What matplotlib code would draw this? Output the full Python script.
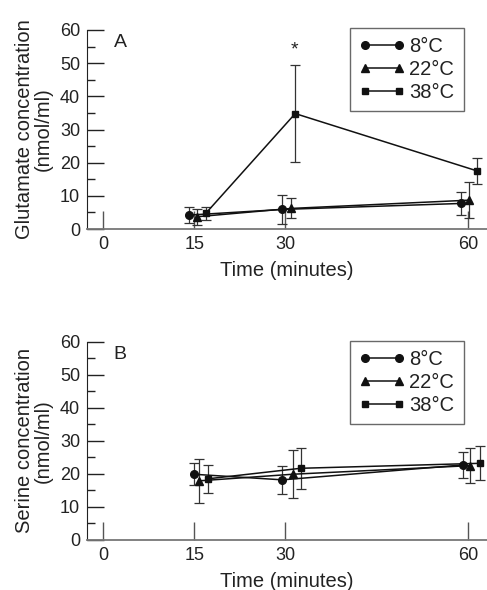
import matplotlib
matplotlib.use("Agg")
import matplotlib.pyplot as plt
from matplotlib.ticker import MultipleLocator
from matplotlib.lines import Line2D

plt.rcParams['font.family'] = ['Liberation Sans', 'DejaVu Sans']

series = ["8\u00b0C", "22\u00b0C", "38\u00b0C"]
markers = ["o", "^", "s"]
time_ticks = [0, 15, 30, 60]

# Panel A: glutamate
glu_x = [[14.2, 29.5, 58.8], [15.5, 30.9, 60.2], [16.9, 31.6, 61.5]]
glu_y = [[4.2, 5.9, 7.7], [3.7, 6.2, 8.7], [4.7, 34.8, 17.5]]
glu_err = [[2.4, 4.3, 3.5], [2.4, 3.0, 5.4], [1.9, 14.6, 4.0]]

# Panel B: serine
ser_x = [[14.9, 29.5, 59.1], [15.8, 31.2, 60.3], [17.2, 32.5, 61.9]]
ser_y = [[19.9, 18.2, 22.7], [17.9, 19.9, 22.5], [18.5, 21.7, 23.2]]
ser_err = [[3.4, 4.2, 4.0], [6.6, 7.3, 5.4], [4.2, 6.2, 5.1]]

W, H = 487, 590
fig = plt.figure(figsize=(W / 100, H / 100), dpi=100)

def px_axes(left, top, right, bottom):
    return fig.add_axes([left / W, 1 - bottom / H, (right - left) / W, (bottom - top) / H])

axA = px_axes(87, 30, 487, 229)
axB = px_axes(87, 341.7, 487, 540)

def msize(m):
    return 5 if m == 's' else 5.5

def draw(ax, xs, ys, errs, letter, ylabel, legend_top):
    handles = []
    for x, y, e, m, lab in zip(xs, ys, errs, markers, series):
        ax.errorbar(x, y, yerr=e, fmt='-', marker=m, color='#111111', ecolor='#333333',
                    elinewidth=0.9, capsize=3.5, capthick=0.9, lw=1.1,
                    markersize=msize(m))
        handles.append(Line2D([], [], color='#111111', lw=1.1, marker=m,
                              markersize=msize(m), label=lab))
    ax.set_xlim(-2.6, 63.1)
    ax.set_ylim(0, 60)
    ax.set_xticks(time_ticks)
    ax.yaxis.set_major_locator(MultipleLocator(10))
    ax.yaxis.set_minor_locator(MultipleLocator(5))
    ax.tick_params(axis='y', which='major', direction='in', length=12, width=1, color='#222222',
                   labelsize=13, labelcolor='#222222', pad=5)
    ax.tick_params(axis='y', which='minor', direction='in', length=6, width=1, color='#222222')
    ax.tick_params(axis='x', which='major', direction='in', length=13, width=1, color='#555555',
                   labelsize=13, labelcolor='#222222', pad=5)
    for s in ['top', 'right']:
        ax.spines[s].set_visible(False)
    ax.spines['left'].set_color('#222222')
    ax.spines['bottom'].set_color('#777777')
    ax.spines['bottom'].set_linewidth(1.3)
    ax.set_xlabel("Time (minutes)", fontsize=14.5, color='#222222', labelpad=6)
    ax.set_ylabel(ylabel, fontsize=14.5, color='#222222', labelpad=5, linespacing=1.0)
    ax.text(0.083, 0.935, letter, transform=ax.transAxes, fontsize=14, color='#222222',
            ha='center', va='center')
    leg = ax.legend(handles=handles, loc='upper left', bbox_to_anchor=(350 / W, 1 - legend_top / H),
                    bbox_transform=fig.transFigure, borderaxespad=0, frameon=True,
                    fancybox=False, edgecolor='#444444', numpoints=2, handlelength=2.3,
                    handletextpad=0.2, labelspacing=0.2, fontsize=14.5, borderpad=0.45)
    leg.get_frame().set_linewidth(1.0)
    for t in leg.get_texts():
        t.set_color('#222222')

draw(axA, glu_x, glu_y, glu_err, "A", "Glutamate concentration\n(nmol/ml)", 28.3)
axA.text(31.5, 54, "*", fontsize=14, ha='center', va='center', color='#222222')
draw(axB, ser_x, ser_y, ser_err, "B", "Serine concentration\n(nmol/ml)", 340.7)

fig.savefig("out.png", dpi=100)
